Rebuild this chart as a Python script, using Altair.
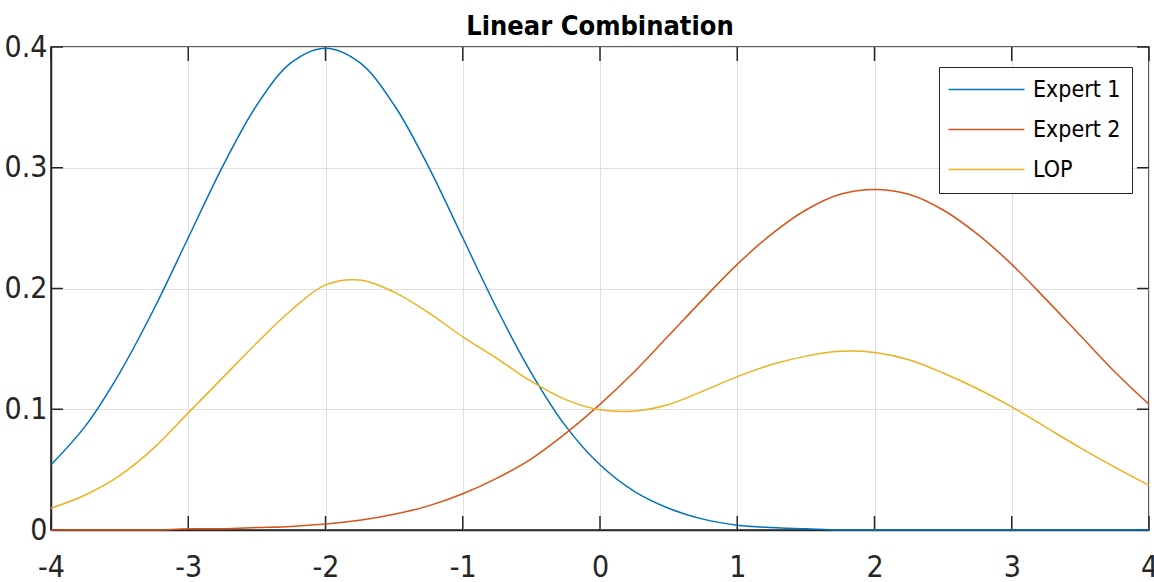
import altair as alt
import pandas as pd

# Sample grid shared by all three densities
x_vals = [-4.0, -3.75, -3.5, -3.25, -3.0, -2.75, -2.5, -2.25, -2.0, -1.75, -1.5,
          -1.25, -1.0, -0.75, -0.5, -0.25, 0.0, 0.25, 0.5, 0.75, 1.0, 1.25, 1.5,
          1.75, 2.0, 2.25, 2.5, 2.75, 3.0, 3.25, 3.5, 3.75, 4.0]

expert1 = [0.054, 0.086, 0.130, 0.183, 0.242, 0.301, 0.352, 0.387, 0.399, 0.387,
           0.352, 0.301, 0.242, 0.183, 0.130, 0.086, 0.054, 0.032, 0.018, 0.009,
           0.004, 0.002, 0.001, 0.000, 0.000, 0.000, 0.000, 0.000, 0.000, 0.000,
           0.000, 0.000, 0.000]

expert2 = [0.000, 0.000, 0.000, 0.000, 0.001, 0.001, 0.002, 0.003, 0.005, 0.008,
           0.013, 0.020, 0.030, 0.043, 0.059, 0.080, 0.104, 0.131, 0.161, 0.191,
           0.220, 0.245, 0.265, 0.278, 0.282, 0.278, 0.265, 0.245, 0.220, 0.191,
           0.161, 0.131, 0.104]

lop = [0.018, 0.029, 0.045, 0.068, 0.097, 0.126, 0.155, 0.182, 0.203, 0.207,
       0.197, 0.180, 0.160, 0.142, 0.123, 0.108, 0.0995, 0.0985, 0.104, 0.115,
       0.127, 0.137, 0.144, 0.148, 0.147, 0.141, 0.130, 0.117, 0.102, 0.085,
       0.068, 0.052, 0.037]

series_names = ["Expert 1", "Expert 2", "LOP"]
series_colors = ["#0072BD", "#D95319", "#EDB120"]

x_ticks = [-4, -3, -2, -1, 0, 1, 2, 3, 4]
y_ticks = [0, 0.1, 0.2, 0.3, 0.4]

W, H = 1098, 483
FONT = "DejaVu Sans Condensed, Liberation Sans Narrow, Liberation Sans, sans-serif"
AXIS_COLOR = "#262626"
GRID_COLOR = "#dfdfdf"

rows = []
for name, values in zip(series_names, [expert1, expert2, lop]):
    for xv, yv in zip(x_vals, values):
        rows.append({"x": xv, "y": yv, "series": name})
df = pd.DataFrame(rows)

x_scale = alt.Scale(domain=[-4, 4], nice=False, zero=False)
y_scale = alt.Scale(domain=[0, 0.4], nice=False)

x_axis = alt.Axis(values=x_ticks, title=None, ticks=False, labelPadding=22,
                  labelFont=FONT, labelFontSize=30, labelColor=AXIS_COLOR,
                  labelExpr="toString(datum.value)", labelFlush=False,
                  grid=True, gridColor=GRID_COLOR, gridWidth=1,
                  domainColor=AXIS_COLOR, domainWidth=1.5)
y_axis = alt.Axis(values=y_ticks, title=None, ticks=False, labelPadding=4,
                  labelFont=FONT, labelFontSize=30, labelColor=AXIS_COLOR,
                  labelExpr="toString(datum.value)", labelFlush=False,
                  labelBaseline="middle",
                  grid=True, gridColor=GRID_COLOR, gridWidth=1,
                  domainColor=AXIS_COLOR, domainWidth=1.5)

lines = alt.Chart(df).mark_line(strokeWidth=1.5, interpolate="catmull-rom").encode(
    x=alt.X("x:Q", scale=x_scale, axis=x_axis),
    y=alt.Y("y:Q", scale=y_scale, axis=y_axis),
    color=alt.Color(
        "series:N",
        scale=alt.Scale(domain=series_names, range=series_colors),
        legend=alt.Legend(
            title=None, orient="none", legendX=888, legendY=20,
            symbolType="M-5,0H5", symbolSize=231, symbolStrokeWidth=1.5,
            symbolOffset=25, labelOffset=35,
            labelFont=FONT, labelFontSize=23, labelColor="#000000",
            rowPadding=16, padding=11,
            fillColor="white", strokeColor=AXIS_COLOR,
        ),
    ),
)

# Inward tick marks on all four sides of the box
xt = pd.DataFrame({"t": x_ticks})
yt = pd.DataFrame({"t": y_ticks})
tick_style = dict(color=AXIS_COLOR, strokeWidth=1.5)

bottom_ticks = alt.Chart(xt).mark_rule(**tick_style).encode(
    x=alt.X("t:Q", scale=x_scale), y=alt.value(H), y2=alt.value(H - 14))
top_ticks = alt.Chart(xt).mark_rule(**tick_style).encode(
    x=alt.X("t:Q", scale=x_scale), y=alt.value(0), y2=alt.value(14))
left_ticks = alt.Chart(yt).mark_rule(**tick_style).encode(
    y=alt.Y("t:Q", scale=y_scale), x=alt.value(0), x2=alt.value(12))
right_ticks = alt.Chart(yt).mark_rule(**tick_style).encode(
    y=alt.Y("t:Q", scale=y_scale), x=alt.value(W), x2=alt.value(W - 12))

chart = alt.layer(
    bottom_ticks, top_ticks, left_ticks, right_ticks, lines
).properties(
    width=W, height=H,
    title=alt.TitleParams("Linear Combination", font=FONT, fontSize=27,
                          fontWeight="bold", color="#000000",
                          anchor="middle", offset=10, dy=19),
    autosize=alt.AutoSizeParams(type="none"),
    padding={"left": 51, "top": 47, "right": 5, "bottom": 52},
    background="white",
).configure_view(
    stroke=AXIS_COLOR, strokeWidth=1.5
)

chart.save("out.html", embed_options={"renderer": "svg", "actions": False})
